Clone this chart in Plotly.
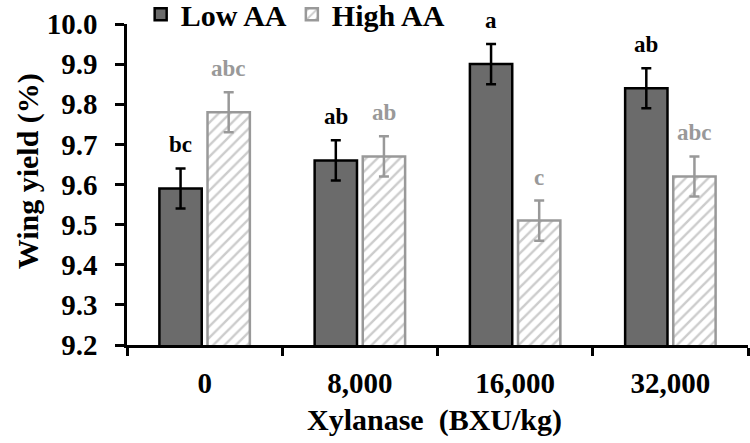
import plotly.graph_objects as go

categories = ["0", "8,000", "16,000", "32,000"]
low_aa = [9.59, 9.66, 9.90, 9.84]
high_aa = [9.78, 9.67, 9.51, 9.62]
low_err = [0.05, 0.05, 0.05, 0.05]
high_err = [0.05, 0.05, 0.05, 0.05]
low_letters = ["bc", "ab", "a", "ab"]
high_letters = ["abc", "ab", "c", "abc"]
y_ticks = [9.2, 9.3, 9.4, 9.5, 9.6, 9.7, 9.8, 9.9, 10.0]

FONT = "Liberation Serif"
GRAY = "#999999"
DARK = "#6b6b6b"

fig = go.Figure()
fig.add_trace(go.Bar(
    name="<b>Low AA</b>", x=categories, y=low_aa,
    marker=dict(color=DARK, line=dict(color="black", width=2.5)),
    error_y=dict(type="data", array=low_err, color="black", thickness=2.5, width=5),
))
fig.add_trace(go.Bar(
    name="<b>High AA</b>", x=categories, y=high_aa,
    marker=dict(color="white", line=dict(color=GRAY, width=2.5),
                pattern=dict(shape="/", fgcolor=GRAY, bgcolor="white", size=8, solidity=0.3)),
    error_y=dict(type="data", array=high_err, color=GRAY, thickness=2.5, width=5),
))

for i, c in enumerate(categories):
    fig.add_annotation(x=c, y=low_aa[i] + low_err[i], text="<b>%s</b>" % low_letters[i],
                       showarrow=False, yanchor="bottom", xshift=-24, yshift=9,
                       font=dict(family=FONT, size=23, color="black"))
    fig.add_annotation(x=c, y=high_aa[i] + high_err[i], text="<b>%s</b>" % high_letters[i],
                       showarrow=False, yanchor="bottom", xshift=24, yshift=9,
                       font=dict(family=FONT, size=23, color=GRAY))

fig.add_annotation(xref="paper", yref="paper", x=-0.16, y=0.54, text="<b>Wing yield (%)</b>",
                   textangle=-90, showarrow=False, xanchor="center", yanchor="middle",
                   font=dict(family=FONT, size=30, color="black"))
fig.add_annotation(xref="paper", yref="paper", x=0.495, y=-0.235, text="<b>Xylanase \u00a0(BXU/kg)</b>",
                   showarrow=False, xanchor="center", yanchor="middle",
                   font=dict(family=FONT, size=30, color="black"))

fig.update_layout(
    width=750, height=443,
    margin=dict(l=127, r=2, t=24, b=98, autoexpand=False),
    paper_bgcolor="white", plot_bgcolor="white",
    barmode="group", bargap=0.38, bargroupgap=0.12,
    font=dict(family=FONT, size=29, color="black"),
    showlegend=True,
    legend=dict(orientation="h", x=0.022, y=1.03, xanchor="left", yanchor="middle",
                font=dict(family=FONT, size=30, color="black"),
                bgcolor="rgba(0,0,0,0)", itemclick=False),
    xaxis=dict(showline=True, linecolor="black", linewidth=2.5, ticks="outside",
               tickson="boundaries", ticklen=8, tickwidth=2.5, tickcolor="black",
               showgrid=False, tickmode="array", tickvals=categories,
               ticktext=["<b>%s</b>" % c for c in categories],
               ticklabelstandoff=10,
               tickfont=dict(family=FONT, size=29)),
    yaxis=dict(range=[9.2, 10.0], showline=True, tickmode="array", tickvals=y_ticks,
               ticktext=["<b>%.1f</b>" % v for v in y_ticks],
               linecolor="black", linewidth=2.5, ticks="outside", ticklen=9,
               tickwidth=2.5, tickcolor="black", showgrid=False, zeroline=False,
               ticklabelstandoff=12,
               tickfont=dict(family=FONT, size=29)),
)

fig.write_html("out.html", post_script="document.body.style.margin='0';",
               config={"displayModeBar": False})
